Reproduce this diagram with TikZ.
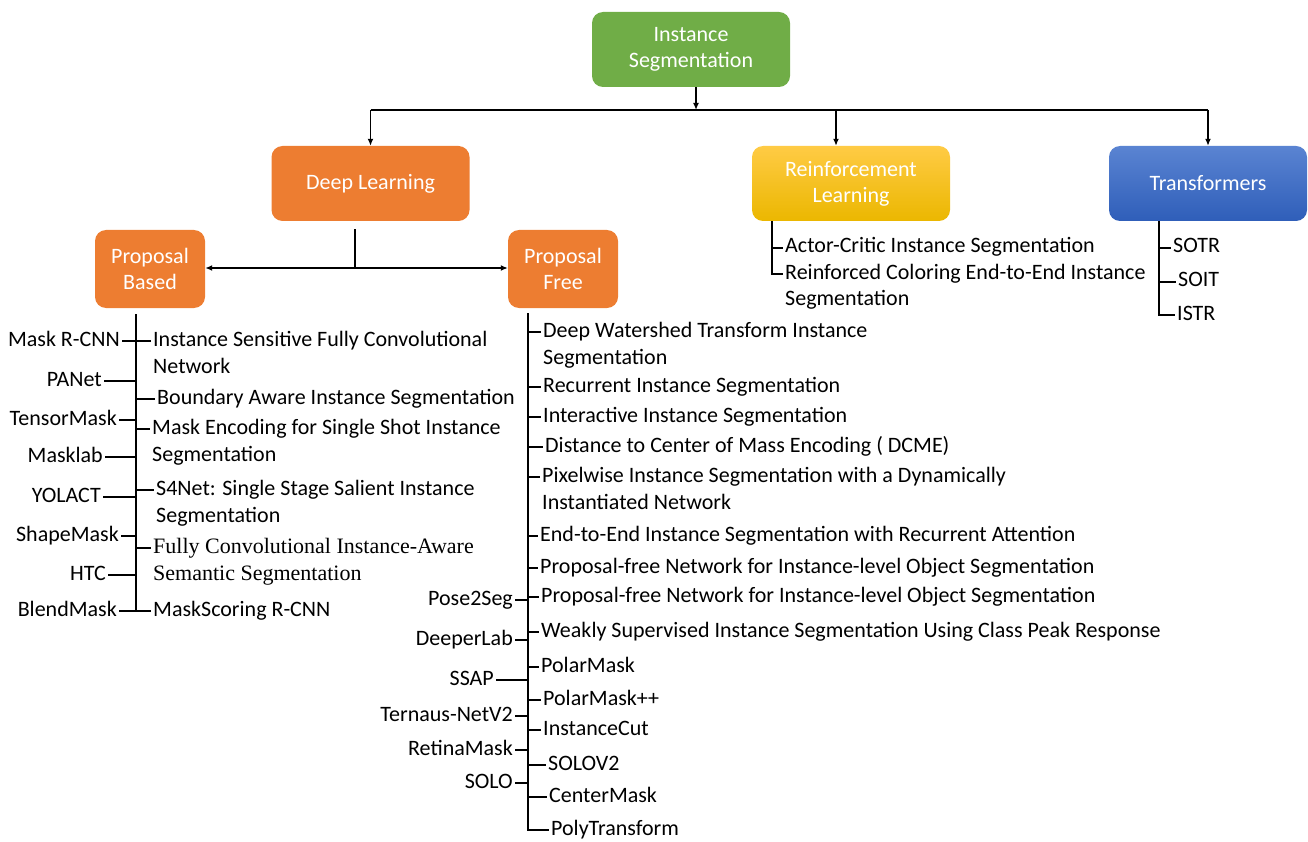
\documentclass[tikz,border=0pt]{standalone}
\usepackage{fontspec}
\setmainfont{Carlito}
\newfontfamily\timesfont{Liberation Serif}
\usepackage{xcolor}
\usetikzlibrary{arrows.meta,positioning,calc}
\definecolor{isgreen}{HTML}{70AD47}
\definecolor{isorange}{HTML}{ED7D31}
\definecolor{isgoldtop}{HTML}{FFCB45}
\definecolor{isgoldbot}{HTML}{EBB700}
\definecolor{isbluetop}{HTML}{5A84D2}
\definecolor{isbluebot}{HTML}{2F5EB9}
% two lines, baseline on the first one
\newcommand{\twol}[2]{\begin{tabular}[t]{@{}l@{}}#1\\#2\end{tabular}}

\begin{document}
\begin{tikzpicture}[
    x=1pt,y=-1pt,
    box/.style  = {rectangle,rounded corners=11pt,align=center,text=white,inner sep=0pt,
                   font=\fontsize{22}{26}\selectfont,minimum width=198pt,minimum height=75pt},
    sbox/.style = {box,minimum width=110pt,minimum height=78pt,fill=isorange},
    fl/.style   = {-{Latex[length=7pt,width=6pt]},line width=1.7pt},
    ln/.style   = {line width=1.7pt},
    ent/.style  = {anchor=west,inner xsep=2pt,inner ysep=0pt,
                   text height=13pt,text depth=3pt,font=\fontsize{22}{27}\selectfont},
    lab/.style  = {ent,anchor=east},
  ]
  \useasboundingbox (0,0) rectangle (1308,842);

  \node[box,fill=isgreen] (root) at (691,49.5) {Instance\\Segmentation};
  \node[box,fill=isorange] (dl) at (370.5,183.5) {Deep Learning};
  \node[box,top color=isgoldtop,bottom color=isgoldbot] (rl) at (851,183.5) {Reinforcement\\Learning};
  \node[box,top color=isbluetop,bottom color=isbluebot] (tr) at (1208,183.5) {Transformers};
  \node[sbox] (pb) at (150,269) {Proposal\\Based};
  \node[sbox] (pf) at (563,269) {Proposal\\Free};

  % top level
  \coordinate (bus) at (696,110);
  \draw[fl] (root.south -| bus) -- (bus);
  \draw[ln] (bus -| dl.north) -- (bus -| tr.north);
  \draw[fl] (bus -| dl.north) -- (dl.north);
  \draw[fl] ([xshift=-15pt]rl.north |- bus) -- ([xshift=-15pt]rl.north);
  \draw[fl] (bus -| tr.north) -- (tr.north);

  % deep learning split
  \coordinate (split) at (355,268);
  \draw[ln] ([yshift=-8pt]dl.south -| split) -- (split);
  \draw[fl] (split) -- (split -| pb.east);
  \draw[fl] (split) -- (split -| pf.west);

  % proposal based
  \coordinate (pbt) at (136,0);
  \node[lab] (mrc) at (122,341) {Mask R-CNN};
  \node[lab] (pan) at (104,381) {PANet};
  \node[lab] (tsm) at (119,420) {TensorMask};
  \node[lab] (mlb) at (105,457) {Masklab};
  \node[lab] (yol) at (103,497) {YOLACT};
  \node[lab] (shm) at (121,536) {ShapeMask};
  \node[lab] (htc) at (108,575) {HTC};
  \node[lab] (bld) at (119,611) {BlendMask};

  \node[ent] (pb1) at (151,341) {\twol{Instance Sensitive Fully Convolutional}{Network}};
  \node[ent] (pb2) at (155,399) {Boundary Aware Instance Segmentation};
  \node[ent] (pb3) at (150,429) {\twol{Mask Encoding for Single Shot Instance}{Segmentation}};
  \node[ent] (pb4) at (154,490) {\twol{S4Net: Single Stage Salient Instance}{Segmentation}};
  \node[ent,font=\timesfont\fontsize{22}{27}\selectfont] (pb5) at (151,548) {\twol{Fully Convolutional Instance-Aware}{Semantic Segmentation}};
  \node[ent] (pb6) at (151,611) {MaskScoring R-CNN};

  \draw[ln] ([yshift=-6pt]pb.south -| pbt) |- (pb6.west);
  \foreach \n in {mrc,pan,tsm,mlb,yol,shm,htc,bld}
    \draw[ln] (\n.east) -- (\n.east -| pbt);
  \foreach \n in {pb1,pb2,pb3,pb4,pb5}
    \draw[ln] (\n.west -| pbt) -- (\n.west);

  % proposal free
  \coordinate (pft) at (528,0);
  \node[lab] (p2s) at (515,600) {Pose2Seg};
  \node[lab] (dpl) at (515,640) {DeeperLab};
  \node[lab] (ssp) at (496,680) {SSAP};
  \node[lab] (tnv) at (515,716) {Ternaus-NetV2};
  \node[lab] (rtm) at (515,750) {RetinaMask};
  \node[lab] (slo) at (515,783) {SOLO};

  \node[ent] (pf1)  at (541,332) {\twol{Deep Watershed Transform Instance}{Segmentation}};
  \node[ent] (pf2)  at (541,387) {Recurrent Instance Segmentation};
  \node[ent] (pf3)  at (541,417) {Interactive Instance Segmentation};
  \node[ent] (pf4)  at (543,447) {Distance to Center of Mass Encoding ( DCME)};
  \node[ent] (pf5)  at (540,477) {\twol{Pixelwise Instance Segmentation with a Dynamically}{Instantiated Network}};
  \node[ent] (pf6)  at (538,536) {End-to-End Instance Segmentation with Recurrent Attention};
  \node[ent] (pf7)  at (538,568) {Proposal-free Network for Instance-level Object Segmentation};
  \node[ent] (pf8)  at (539,597) {Proposal-free Network for Instance-level Object Segmentation};
  \node[ent] (pf9)  at (539,632) {Weakly Supervised Instance Segmentation Using Class Peak Response};
  \node[ent] (pf10) at (539,667) {PolarMask};
  \node[ent] (pf11) at (541,700) {PolarMask++};
  \node[ent] (pf12) at (541,730) {InstanceCut};
  \node[ent] (pf13) at (546,765) {SOLOV2};
  \node[ent] (pf14) at (547,797) {CenterMask};
  \node[ent] (pf15) at (549,830) {PolyTransform};

  \draw[ln] ([yshift=-5pt]pf.south -| pft) |- (pf15.west);
  \foreach \n in {p2s,dpl,ssp,tnv,rtm,slo}
    \draw[ln] (\n.east) -- (\n.east -| pft);
  \foreach \n in {pf1,pf2,pf3,pf4,pf5,pf6,pf7,pf8,pf9,pf10,pf11,pf12,pf13,pf14}
    \draw[ln] (\n.west -| pft) -- (\n.west);

  % reinforcement learning
  \coordinate (rlt) at (772,0);
  \node[ent] (rl1) at (783,248) {Actor-Critic Instance Segmentation};
  \node[ent] (rl2) at (783,274) {\twol{Reinforced Coloring End-to-End Instance}{Segmentation}};
  \draw[ln] (rl.south -| rlt) |- (rl2.west);
  \draw[ln] (rl1.west -| rlt) -- (rl1.west);

  % transformers
  \coordinate (trt) at (1159,0);
  \node[ent] (tr1) at (1171,248) {SOTR};
  \node[ent] (tr2) at (1176,282) {SOIT};
  \node[ent] (tr3) at (1175,315) {ISTR};
  \draw[ln] (tr.south -| trt) |- (tr3.west);
  \draw[ln] (tr1.west -| trt) -- (tr1.west);
  \draw[ln] (tr2.west -| trt) -- (tr2.west);

\end{tikzpicture}
\end{document}
